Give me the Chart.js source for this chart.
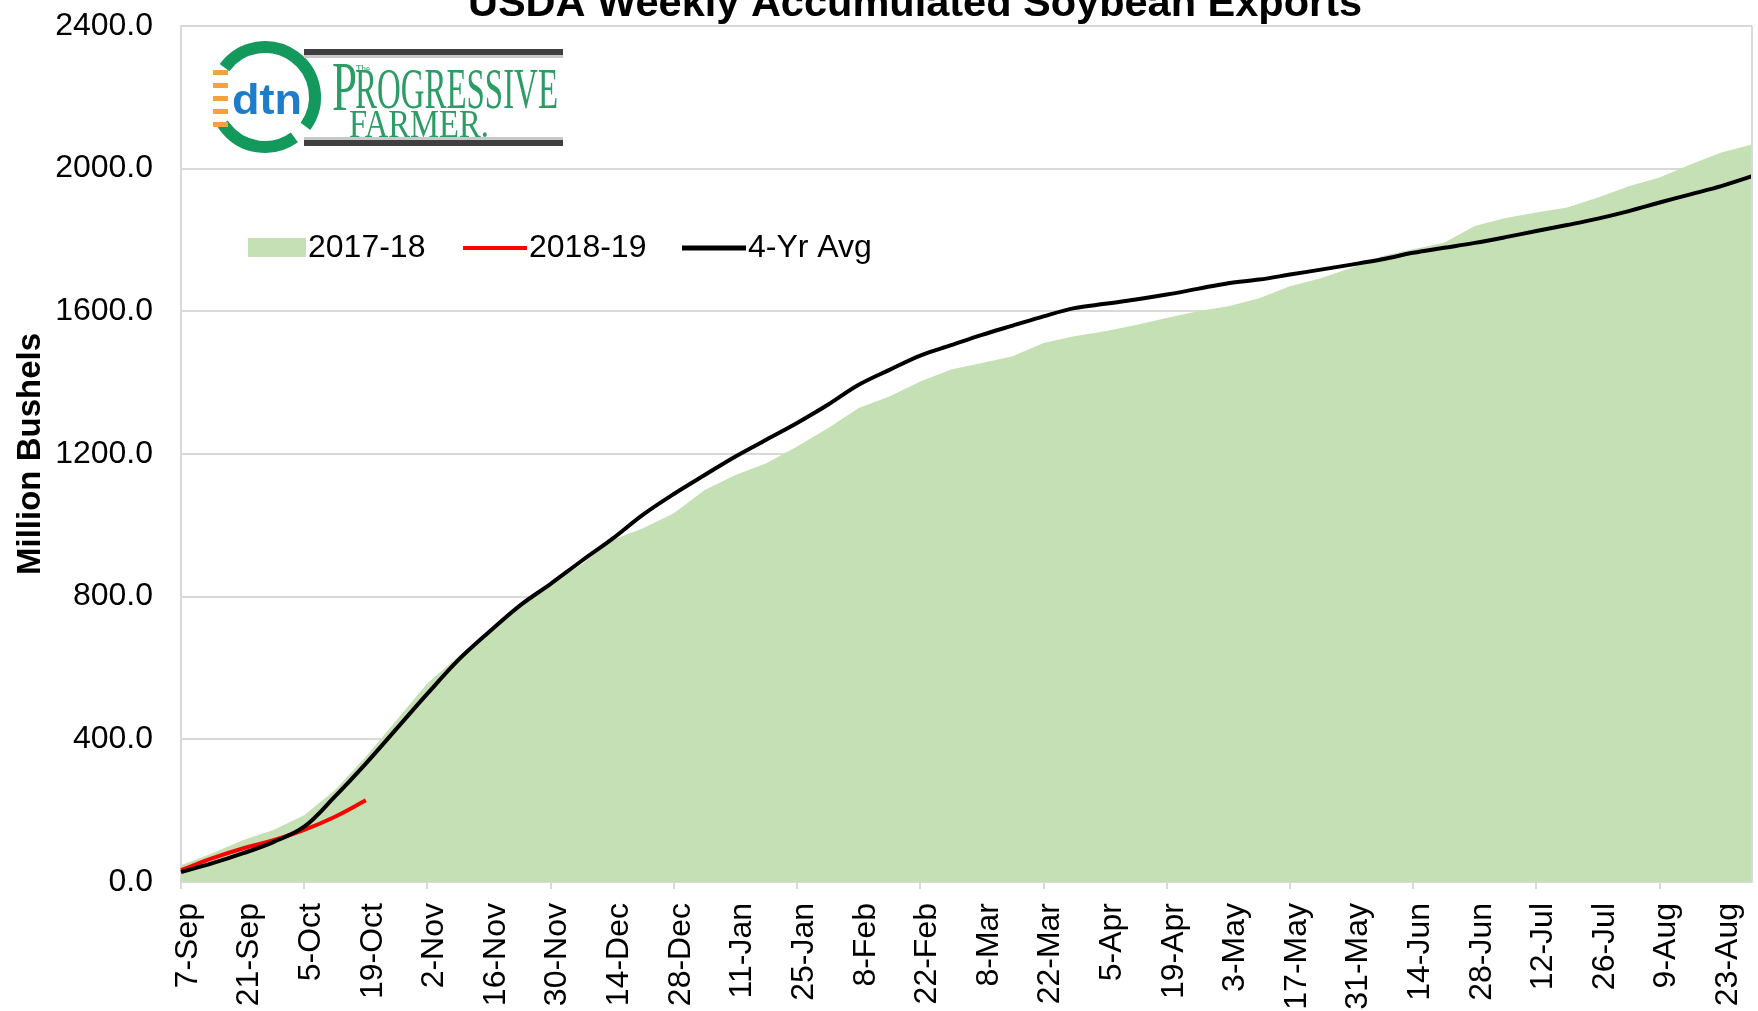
<!DOCTYPE html>
<html>
<head>
<meta charset="utf-8">
<script src="https://cdn.jsdelivr.net/npm/chart.js@4.4.0/dist/chart.umd.min.js"></script>
<style>
  html, body { margin: 0; padding: 0; background: #fff; overflow: hidden; }
  #wrap { width: 1758px; height: 1011px; }
</style>
</head>
<body>
<div id="wrap"><canvas id="soyChart" width="1758" height="1011"></canvas></div>
<script>
// Marketing-year weeks (Thursday reporting dates)
const weeks = [
  '7-Sep', '14-Sep', '21-Sep', '28-Sep', '5-Oct', '12-Oct', '19-Oct', '26-Oct',
  '2-Nov', '9-Nov', '16-Nov', '23-Nov', '30-Nov', '7-Dec', '14-Dec', '21-Dec',
  '28-Dec', '4-Jan', '11-Jan', '18-Jan', '25-Jan', '1-Feb', '8-Feb', '15-Feb',
  '22-Feb', '1-Mar', '8-Mar', '15-Mar', '22-Mar', '29-Mar', '5-Apr', '12-Apr',
  '19-Apr', '26-Apr', '3-May', '10-May', '17-May', '24-May', '31-May', '7-Jun',
  '14-Jun', '21-Jun', '28-Jun', '5-Jul', '12-Jul', '19-Jul', '26-Jul', '2-Aug',
  '9-Aug', '16-Aug', '23-Aug', '30-Aug'
];

// Accumulated exports, million bushels
const exports1718 = [
  47, 80, 117, 146, 187, 258, 351, 454, 557, 632, 706, 781, 837, 890,
  959, 992, 1034, 1099, 1141, 1174, 1221, 1272, 1329, 1361, 1403, 1437,
  1455, 1474, 1511, 1530, 1544, 1562, 1581, 1600, 1614, 1637, 1670, 1693,
  1722, 1755, 1774, 1792, 1839, 1862, 1877, 1891, 1919, 1951, 1975, 2012,
  2045, 2068
];
const exports1819 = [33, 66, 94, 117, 146, 183, 229];
const fourYearAvg = [
  28, 52, 80, 112, 155, 240, 332, 430, 528, 622, 701, 775, 836, 900,
  962, 1030, 1088, 1141, 1193, 1240, 1287, 1338, 1394, 1436, 1476, 1505,
  1534, 1560, 1586, 1609, 1621, 1633, 1647, 1663, 1679, 1689, 1703, 1717,
  1731, 1746, 1764, 1778, 1792, 1808, 1825, 1842, 1860, 1881, 1905, 1928,
  1951, 1979
];

const yMin = 0;
const yMax = 2400;
const yStep = 400;

const FONT = "'Liberation Sans', Arial, sans-serif";
const SERIF = "'Liberation Serif', 'Times New Roman', serif";
const GRID = '#d9d9d9';
const AREA_GREEN = '#c5e0b4';

// Squeeze a string horizontally so it fills a given width
function drawSqueezed(ctx, text, x, y, font, width) {
  ctx.font = font;
  const w = ctx.measureText(text).width;
  ctx.save();
  ctx.translate(x, y);
  ctx.scale(width / w, 1);
  ctx.fillText(text, 0, 0);
  ctx.restore();
}

function drawLogo(ctx) {
  ctx.save();
  // green ring of the dtn badge
  ctx.strokeStyle = '#14995c';
  ctx.lineWidth = 12;
  ctx.lineCap = 'butt';
  ctx.beginPath();
  ctx.arc(265, 97, 50, Math.PI * 1.2, Math.PI * 2.2);
  ctx.stroke();
  ctx.beginPath();
  ctx.arc(265, 97, 50, Math.PI * 0.3, Math.PI * 0.82);
  ctx.stroke();
  // orange dashes on the left side
  ctx.fillStyle = '#f6a23c';
  for (let i = 0; i < 5; i++) {
    ctx.fillRect(213, 70 + i * 13, 15, 5);
  }
  // dtn lettering
  ctx.fillStyle = '#1d7dca';
  ctx.textAlign = 'left';
  ctx.textBaseline = 'alphabetic';
  drawSqueezed(ctx, 'dtn', 232, 114, `bold 42px ${FONT}`, 70);

  // bars framing the magazine name
  ctx.fillStyle = '#3f3f3f';
  ctx.fillRect(304, 49, 259, 6);
  ctx.fillRect(304, 140, 259, 6);
  ctx.fillStyle = '#c8c8c8';
  ctx.fillRect(304, 55, 259, 3);
  ctx.fillRect(304, 137, 259, 3);

  ctx.fillStyle = '#2b9c65';
  drawSqueezed(ctx, 'P', 332, 110, `70px ${SERIF}`, 25);
  drawSqueezed(ctx, 'ROGRESSIVE', 355, 108, `56px ${SERIF}`, 203);
  drawSqueezed(ctx, 'The', 356, 72, `11px ${SERIF}`, 14);
  drawSqueezed(ctx, 'FARMER.', 349, 137, `40px ${SERIF}`, 140);
  ctx.restore();
}

const chartDecor = {
  id: 'chartDecor',
  afterDraw(chart) {
    const ctx = chart.ctx;
    const area = chart.chartArea;
    ctx.save();

    // right edge of the plot frame
    ctx.strokeStyle = GRID;
    ctx.lineWidth = 2;
    ctx.beginPath();
    ctx.moveTo(area.right, area.top);
    ctx.lineTo(area.right, area.bottom);
    ctx.stroke();

    // chart title, runs off the top edge
    ctx.fillStyle = '#000';
    ctx.font = `bold 41.5px ${FONT}`;
    ctx.textAlign = 'center';
    ctx.textBaseline = 'alphabetic';
    ctx.fillText('USDA Weekly Accumulated Soybean Exports', 915, 16);

    // legend inside the plot
    const ds = chart.data.datasets;
    const ly = 248;
    ctx.font = `32px ${FONT}`;
    ctx.textAlign = 'left';
    ctx.textBaseline = 'middle';

    ctx.fillStyle = ds[0].backgroundColor;
    ctx.fillRect(248, 238, 58, 19);
    ctx.fillStyle = '#000';
    ctx.fillText(ds[0].label, 308, ly);

    ctx.strokeStyle = ds[1].borderColor;
    ctx.lineWidth = 4;
    ctx.beginPath();
    ctx.moveTo(463, ly);
    ctx.lineTo(527, ly);
    ctx.stroke();
    ctx.fillText(ds[1].label, 529, ly);

    ctx.strokeStyle = ds[2].borderColor;
    ctx.lineWidth = 5;
    ctx.beginPath();
    ctx.moveTo(682, ly);
    ctx.lineTo(746, ly);
    ctx.stroke();
    ctx.fillText(ds[2].label, 748, ly);

    drawLogo(ctx);
    ctx.restore();
  }
};

new Chart(document.getElementById('soyChart'), {
  type: 'line',
  data: {
    labels: weeks,
    datasets: [
      {
        label: '2017-18',
        data: exports1718,
        fill: 'origin',
        backgroundColor: AREA_GREEN,
        borderColor: 'rgba(0,0,0,0)',
        borderWidth: 0,
        pointRadius: 0,
        tension: 0,
        order: 3
      },
      {
        label: '2018-19',
        data: exports1819,
        fill: false,
        borderColor: '#ff0000',
        borderWidth: 4,
        pointRadius: 0,
        tension: 0.4,
        order: 2
      },
      {
        label: '4-Yr Avg',
        data: fourYearAvg,
        fill: false,
        borderColor: '#000000',
        borderWidth: 4,
        pointRadius: 0,
        tension: 0.35,
        order: 1
      }
    ]
  },
  options: {
    responsive: false,
    devicePixelRatio: 1,
    animation: false,
    layout: { padding: { top: 26, right: 6, left: 0, bottom: 0 } },
    plugins: {
      legend: { display: false },
      tooltip: { enabled: false }
    },
    scales: {
      x: {
        type: 'category',
        offset: false,
        afterFit(scale) {
          scale.height = 129;
          scale.paddingLeft = 0;
          scale.paddingRight = 0;
        },
        grid: {
          drawOnChartArea: false,
          drawTicks: true,
          tickLength: 7,
          lineWidth: 2,
          color: ctx => (ctx.index % 2 === 0 ? GRID : 'rgba(0,0,0,0)')
        },
        border: { color: GRID, width: 2 },
        ticks: {
          autoSkip: false,
          minRotation: 90,
          maxRotation: 90,
          padding: 14,
          labelOffset: 7,
          color: '#000',
          font: { family: FONT, size: 32 },
          callback(value, index) {
            return index % 2 === 0 ? this.getLabelForValue(value) : null;
          }
        }
      },
      y: {
        min: yMin,
        max: yMax,
        afterFit(scale) {
          scale.width = 181;
          scale.paddingTop = 0;
          scale.paddingBottom = 0;
        },
        grid: { color: GRID, lineWidth: 2, drawTicks: false },
        border: { color: GRID, width: 2 },
        ticks: {
          stepSize: yStep,
          padding: 28,
          color: '#000',
          font: { family: FONT, size: 32 },
          callback: v => v.toFixed(1)
        },
        title: {
          display: true,
          text: 'Million Bushels',
          color: '#000',
          font: { family: FONT, size: 33, weight: 'bold' },
          padding: { top: 11, bottom: 0 }
        }
      }
    }
  },
  plugins: [chartDecor]
});
</script>
</body>
</html>
